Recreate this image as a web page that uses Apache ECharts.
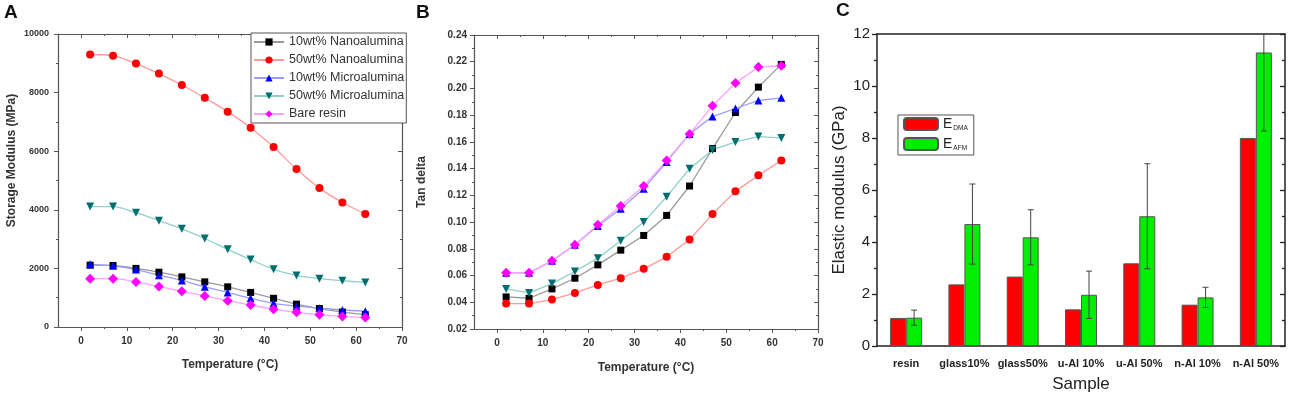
<!DOCTYPE html>
<html>
<head>
<meta charset="utf-8">
<script src="https://cdn.jsdelivr.net/npm/echarts@6/dist/echarts.min.js"></script>
<style>
  html, body { margin: 0; padding: 0; background: #fff; }
  #main { width: 1295px; height: 399px; }
</style>
</head>
<body>
<div id="main"></div>
<script>
// temperatures shared by panels A and B
const temps = [2, 7, 12, 17, 22, 27, 32, 37, 42, 47, 52, 57, 62];
const tempTicks = [0, 10, 20, 30, 40, 50, 60, 70];
const tempMinorTicks = [5, 15, 25, 35, 45, 55, 65];

// A: storage modulus (MPa)
const nano10A = [2110, 2100, 2000, 1870, 1710, 1540, 1370, 1180, 980, 780, 630, 510, 420];
const nano50A = [9300, 9260, 8990, 8650, 8260, 7820, 7350, 6800, 6140, 5390, 4740, 4250, 3860];
const micro10A = [2140, 2090, 1960, 1770, 1590, 1370, 1180, 980, 810, 710, 640, 580, 540];
const micro50A = [4110, 4110, 3900, 3630, 3350, 3020, 2650, 2300, 1970, 1760, 1650, 1580, 1520];
const resinA = [1650, 1650, 1540, 1380, 1220, 1060, 900, 750, 610, 500, 420, 360, 320];

// B: tan delta
const nano10B = [0.044, 0.043, 0.050, 0.058, 0.068, 0.079, 0.090, 0.105, 0.127, 0.155, 0.182, 0.201, 0.218];
const nano50B = [0.039, 0.039, 0.042, 0.047, 0.053, 0.058, 0.065, 0.074, 0.087, 0.106, 0.123, 0.135, 0.146];
const micro10B = [0.062, 0.062, 0.071, 0.083, 0.097, 0.110, 0.125, 0.145, 0.166, 0.179, 0.185, 0.191, 0.193];
const micro50B = [0.050, 0.047, 0.054, 0.063, 0.073, 0.086, 0.100, 0.119, 0.140, 0.154, 0.160, 0.164, 0.163];
const resinB = [0.062, 0.062, 0.071, 0.083, 0.098, 0.112, 0.127, 0.146, 0.166, 0.187, 0.204, 0.216, 0.217];

// C: elastic modulus (GPa)
const samples = ['resin', 'glass10%', 'glass50%', 'u-Al 10%', 'u-Al 50%', 'n-Al 10%', 'n-Al 50%'];
const eDMA = [1.08, 2.37, 2.67, 1.41, 3.18, 1.59, 8.0];
const eAFM = [1.09, 4.69, 4.18, 1.97, 4.99, 1.87, 11.29];
const eAFMerr = [0.29, 1.54, 1.06, 0.91, 2.02, 0.39, 3.02];

const FONT = 'Liberation Sans, Arial, sans-serif';
const GRAY = '#555';

const seriesStyles = [
  { name: '10wt% Nanoalumina', symbol: 'rect', size: 7, color: '#000000', line: '#9a9a9a' },
  { name: '50wt% Nanoalumina', symbol: 'circle', size: 8, color: '#ff0000', line: '#ff9a9a' },
  { name: '10wt% Microalumina', symbol: 'triangle', size: 8, color: '#0000ff', line: '#9c9cff' },
  { name: '50wt% Microalumina', symbol: 'triangle', size: 8, color: '#006e6e', line: '#8fd0c8', rotate: 180 },
  { name: 'Bare resin', symbol: 'diamond', size: 10, color: '#ff00ff', line: '#ffa0ff' }
];

function lineSeries(values, xi, yi, smooth) {
  return values.map((vals, k) => {
    const s = seriesStyles[k];
    return {
      name: s.name,
      type: 'line',
      xAxisIndex: xi,
      yAxisIndex: yi,
      data: temps.map((t, i) => [t, vals[i]]),
      smooth: smooth,
      symbol: s.symbol,
      symbolSize: s.size,
      symbolRotate: s.rotate || 0,
      showAllSymbol: true,
      itemStyle: { color: s.color },
      lineStyle: { color: s.line, width: 1.3 },
      emphasis: { disabled: true }
    };
  });
}

// 4 x-axes (bottom, bottom minor, top, top minor) for the temperature panels
function tempXAxes(gi, nameGap) {
  const base = {
    type: 'value', gridIndex: gi, min: -5, max: 70,
    splitLine: { show: false },
    axisLine: { show: true, onZero: false, lineStyle: { color: GRAY, width: 1.2 } }
  };
  return [
    Object.assign({}, base, {
      position: 'bottom',
      axisTick: { customValues: tempTicks, length: 4, lineStyle: { color: GRAY } },
      axisLabel: { customValues: tempTicks, fontFamily: FONT, fontSize: 10, fontWeight: 'bold', color: '#333', margin: 9 },
      name: 'Temperature (°C)', nameLocation: 'middle', nameGap: nameGap,
      nameTextStyle: { fontFamily: FONT, fontSize: 12, fontWeight: 'bold', color: '#333' }
    }),
    Object.assign({}, base, {
      position: 'bottom', axisLine: { show: false, onZero: false },
      axisTick: { customValues: tempMinorTicks, length: 2, lineStyle: { color: GRAY } },
      axisLabel: { show: false, customValues: tempMinorTicks }
    }),
    Object.assign({}, base, {
      position: 'top',
      axisTick: { customValues: tempTicks, inside: true, length: 4, lineStyle: { color: GRAY } },
      axisLabel: { show: false, customValues: tempTicks }
    }),
    Object.assign({}, base, {
      position: 'top', axisLine: { show: false, onZero: false },
      axisTick: { customValues: tempMinorTicks, inside: true, length: 2, lineStyle: { color: GRAY } },
      axisLabel: { show: false, customValues: tempMinorTicks }
    })
  ];
}

function boxYAxes(gi, min, max, interval, left, right) {
  const base = {
    type: 'value', gridIndex: gi, min: min, max: max, interval: interval,
    splitLine: { show: false },
    minorTick: { show: true, splitNumber: 2, length: 2, lineStyle: { color: GRAY } }
  };
  return [
    Object.assign({}, base, { position: 'left' }, left),
    Object.assign({}, base, { position: 'right', axisLabel: { show: false } }, right)
  ];
}

const chart = echarts.init(document.getElementById('main'));

const errorSeries = {
  type: 'custom',
  name: 'err',
  xAxisIndex: 8,
  yAxisIndex: 4,
  clip: true,
  z: 5,
  data: samples.map((s, i) => [i, eAFM[i], eAFMerr[i]]),
  renderItem: function (params, api) {
    const i = api.value(0), v = api.value(1), e = api.value(2);
    const top = api.coord([i, v + e]);
    const bot = api.coord([i, v - e]);
    const x = top[0] + 8;
    const st = { stroke: '#444', lineWidth: 1 };
    return {
      type: 'group',
      children: [
        { type: 'line', shape: { x1: x, y1: top[1], x2: x, y2: bot[1] }, style: st },
        { type: 'line', shape: { x1: x - 3, y1: top[1], x2: x + 3, y2: top[1] }, style: st },
        { type: 'line', shape: { x1: x - 3, y1: bot[1], x2: x + 3, y2: bot[1] }, style: st }
      ]
    };
  }
};

const option = {
  animation: false,
  backgroundColor: '#fff',
  textStyle: { fontFamily: FONT },
  title: [
    { text: 'A', left: 4, top: 3, padding: 0, textStyle: { fontFamily: FONT, fontSize: 19, fontWeight: 'bold', color: '#111' } },
    { text: 'B', left: 416, top: 3, padding: 0, textStyle: { fontFamily: FONT, fontSize: 19, fontWeight: 'bold', color: '#111' } },
    { text: 'C', left: 836, top: 1, padding: 0, textStyle: { fontFamily: FONT, fontSize: 19, fontWeight: 'bold', color: '#111' } }
  ],
  grid: [
    { left: 58, top: 34, width: 344, height: 293, outerBoundsMode: 'none' },
    { left: 474, top: 35, width: 344, height: 294, outerBoundsMode: 'none' },
    { left: 877, top: 34, width: 408, height: 312, outerBoundsMode: 'none' }
  ],
  legend: [
    {
      data: seriesStyles.map(s => s.name),
      orient: 'vertical', left: 251, top: 33,
      itemWidth: 30, itemHeight: 9, itemGap: 4,
      padding: [2, 2, 2, 2],
      borderColor: GRAY, borderWidth: 1, backgroundColor: '#fff',
      textStyle: { fontFamily: FONT, fontSize: 12.5, color: '#333', lineHeight: 14 },
      selectedMode: false
    },
    {
      data: ['EDMA', 'EAFM'],
      orient: 'vertical', left: 898, top: 115,
      itemWidth: 34, itemHeight: 12, itemGap: 5,
      padding: [2, 6, 3, 5],
      borderColor: GRAY, borderWidth: 1,
      selectedMode: false,
      formatter: function (n) { return '{e|E}{s|' + n.slice(1) + '}'; },
      textStyle: {
        rich: {
          e: { fontFamily: FONT, fontSize: 14, color: '#222', lineHeight: 18 },
          s: { fontFamily: FONT, fontSize: 6.5, color: '#222', verticalAlign: 'bottom', padding: [0, 0, 1, 1] }
        }
      }
    }
  ],
  xAxis: [].concat(
    tempXAxes(0, 32),
    tempXAxes(1, 33),
    [
      {
        type: 'category', gridIndex: 2, data: samples, position: 'bottom',
        axisLine: { show: true, onZero: false, lineStyle: { color: '#222', width: 1.5 } },
        axisTick: { alignWithLabel: true, length: 5, lineStyle: { color: '#222', width: 1.3 } },
        axisLabel: { fontFamily: FONT, fontSize: 11, fontWeight: 'bold', color: '#222', margin: 12, interval: 0 },
        name: 'Sample', nameLocation: 'middle', nameGap: 30,
        nameTextStyle: { fontFamily: FONT, fontSize: 17, color: '#222' }
      },
      {
        type: 'category', gridIndex: 2, data: samples, position: 'top',
        axisLine: { show: true, onZero: false, lineStyle: { color: '#222', width: 1.5 } },
        axisTick: { alignWithLabel: true, inside: true, length: 5, lineStyle: { color: '#222', width: 1.3 } },
        axisLabel: { show: false }
      }
    ]
  ),
  yAxis: [].concat(
    boxYAxes(0, 0, 10000, 2000,
      {
        axisLine: { show: true, onZero: false, lineStyle: { color: GRAY, width: 1.2 } },
        axisTick: { show: true, length: 4, lineStyle: { color: GRAY } },
        axisLabel: { fontFamily: FONT, fontSize: 9, fontWeight: 'bold', color: '#333', margin: 9,
          formatter: v => String(v) },
        name: 'Storage Modulus (MPa)', nameLocation: 'middle', nameGap: 40,
        nameTextStyle: { fontFamily: FONT, fontSize: 12, fontWeight: 'bold', color: '#333', padding: [0, 0, 0, 40] }
      },
      {
        axisLine: { show: true, onZero: false, lineStyle: { color: GRAY, width: 1.2 } },
        axisTick: { show: true, inside: true, length: 4, lineStyle: { color: GRAY } }
      }),
    boxYAxes(1, 0.02, 0.24, 0.02,
      {
        axisLine: { show: true, onZero: false, lineStyle: { color: GRAY, width: 1.2 } },
        axisTick: { show: true, length: 4, lineStyle: { color: GRAY } },
        axisLabel: { fontFamily: FONT, fontSize: 10, fontWeight: 'bold', color: '#333', margin: 7,
          formatter: v => v.toFixed(2) },
        name: 'Tan delta', nameLocation: 'middle', nameGap: 46,
        nameTextStyle: { fontFamily: FONT, fontSize: 12, fontWeight: 'bold', color: '#333' }
      },
      {
        axisLine: { show: true, onZero: false, lineStyle: { color: GRAY, width: 1.2 } },
        axisTick: { show: true, inside: true, length: 4, lineStyle: { color: GRAY } }
      }),
    boxYAxes(2, 0, 12, 2,
      {
        axisLine: { show: true, onZero: false, lineStyle: { color: '#222', width: 1.5 } },
        axisTick: { show: true, length: 5, lineStyle: { color: '#222', width: 1.3 } },
        minorTick: { show: true, splitNumber: 2, length: 3, lineStyle: { color: '#222', width: 1.3 } },
        axisLabel: { fontFamily: FONT, fontSize: 15, color: '#222', margin: 7 },
        name: 'Elastic modulus (GPa)', nameLocation: 'middle', nameGap: 29,
        nameTextStyle: { fontFamily: FONT, fontSize: 17, color: '#222' }
      },
      {
        axisLine: { show: true, onZero: false, lineStyle: { color: '#222', width: 1.5 } },
        axisTick: { show: true, inside: true, length: 5, lineStyle: { color: '#222', width: 1.3 } },
        minorTick: { show: true, splitNumber: 2, length: 3, lineStyle: { color: '#222', width: 1.3 } }
      })
  ),
  series: [].concat(
    lineSeries([nano10A, nano50A, micro10A, micro50A, resinA], 0, 0, 0.3),
    lineSeries([nano10B, nano50B, micro10B, micro50B, resinB], 4, 2, false),
    [
      {
        name: 'EDMA', type: 'bar', xAxisIndex: 8, yAxisIndex: 4,
        data: eDMA, barWidth: 16, barGap: '0%',
        itemStyle: { color: '#ff0000', borderColor: '#555', borderWidth: 1 }
      },
      {
        name: 'EAFM', type: 'bar', xAxisIndex: 8, yAxisIndex: 4,
        data: eAFM, barWidth: 16, barGap: '0%',
        itemStyle: { color: '#00ee00', borderColor: '#555', borderWidth: 1 }
      },
      errorSeries
    ]
  )
};

chart.setOption(option);
</script>
</body>
</html>
